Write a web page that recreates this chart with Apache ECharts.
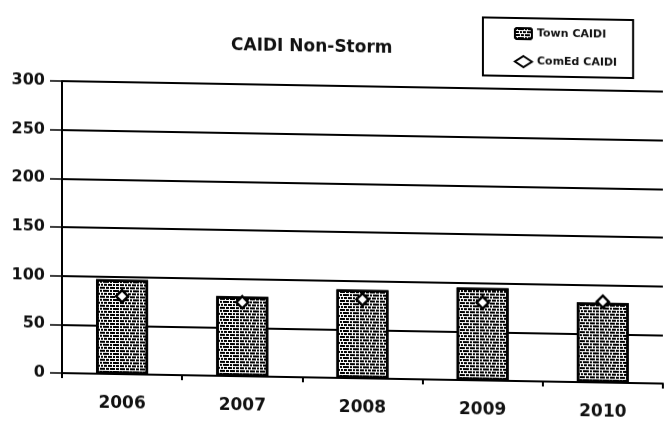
<!DOCTYPE html>
<html>
<head>
<meta charset="utf-8">
<script src="https://cdn.jsdelivr.net/npm/echarts@6/dist/echarts.min.js"></script>
<style>
  html, body { margin: 0; padding: 0; background: #fff; }
  /* the scanned original is slightly sheared downwards to the right */
  #chart { width: 664px; height: 433px; transform-origin: 0 0; transform: skewY(1deg); }
</style>
</head>
<body>
<div id="chart"></div>
<script>
// data
const years = ['2006', '2007', '2008', '2009', '2010'];
const townCaidi = [97, 82, 91, 95, 82];
const comedCaidi = [80, 76, 81, 80, 83];
const yTicks = [0, 50, 100, 150, 200, 250, 300];

const font = 'DejaVu Sans';
let myChart = echarts.init(document.getElementById('chart'));

let option = {
    backgroundColor: '#fff',
    animation: false,
    title: {
        text: 'CAIDI Non-Storm',
        left: 226,
        top: 28,
        textStyle: { fontFamily: font, fontSize: 17, fontWeight: 'bold', color: '#111' }
    },
    legend: {
        orient: 'vertical',
        left: 483,
        top: 9,
        padding: [9, 16, 8, 31],
        itemGap: 15,
        itemWidth: 17,
        itemHeight: 11,
        borderColor: '#000',
        borderWidth: 2,
        textStyle: { fontFamily: font, fontSize: 11, fontWeight: 'bold', color: '#111' },
        data: ['Town CAIDI', 'ComEd CAIDI']
    },
    grid: { left: 62, right: 1, top: 80, bottom: 61 },
    xAxis: {
        type: 'category',
        data: years,
        axisLine: { lineStyle: { color: '#000', width: 2 } },
        axisTick: { show: true, length: 5, lineStyle: { color: '#000', width: 2 } },
        axisLabel: { margin: 21, fontFamily: font, fontSize: 17, fontWeight: 'bold', color: '#111' }
    },
    yAxis: {
        type: 'value',
        min: yTicks[0],
        max: yTicks[yTicks.length - 1],
        interval: 50,
        axisLine: { show: true, lineStyle: { color: '#000', width: 2 } },
        axisTick: { show: true, length: 12, lineStyle: { color: '#000', width: 1.5 } },
        axisLabel: { margin: 17, fontFamily: font, fontSize: 16, fontWeight: 'bold', color: '#111' },
        splitLine: { lineStyle: { color: '#000', width: 2 } }
    },
    series: [
        {
            name: 'Town CAIDI',
            type: 'bar',
            data: townCaidi,
            barWidth: 52,
            itemStyle: {
                color: '#fff',
                borderColor: '#000',
                borderWidth: 2.5,
                decal: {
                    symbol: 'rect',
                    symbolSize: 1,
                    color: '#000',
                    dashArrayX: [[5, 1, 3, 1], [2, 1, 6, 1], [4, 1, 2, 1, 3, 1]],
                    dashArrayY: [2, 1],
                    rotation: 0
                }
            }
        },
        {
            name: 'ComEd CAIDI',
            type: 'scatter',
            data: comedCaidi,
            symbol: 'diamond',
            symbolSize: 12,
            z: 5,
            itemStyle: { color: '#fff', borderColor: '#000', borderWidth: 2.5, opacity: 1 }
        }
    ]
};
myChart.setOption(option);
</script>
</body>
</html>
